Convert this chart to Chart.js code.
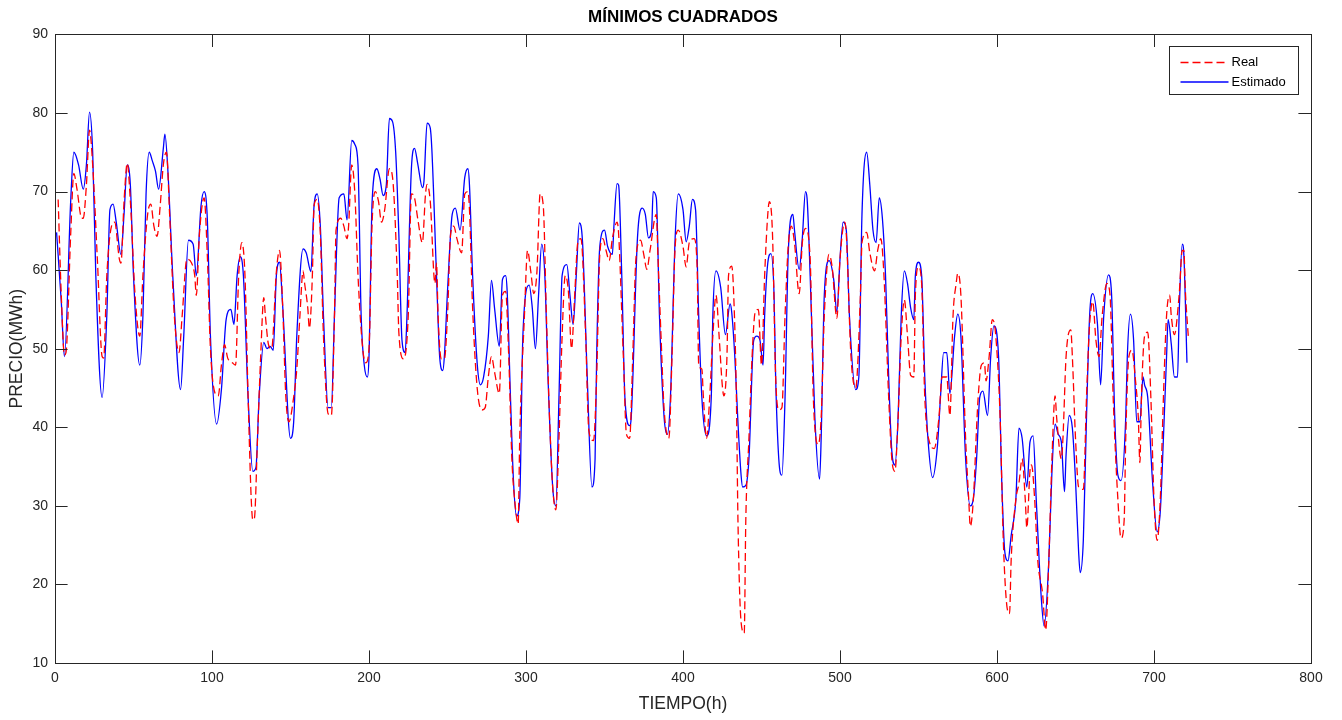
<!DOCTYPE html>
<html>
<head>
<meta charset="utf-8">
<title>Mínimos cuadrados</title>
<script src="https://cdn.jsdelivr.net/npm/chart.js@4.4.1/dist/chart.umd.min.js"></script>
<style>
  html, body { margin: 0; padding: 0; background: #fff; }
  #wrap { width: 1342px; height: 720px; }
</style>
</head>
<body>
<div id="wrap"><canvas id="lsChart" width="1342" height="720"></canvas></div>
<script>
// Precio real (hora, valor)
const realHours = [2,4,6,7,10,12,14,17,18,20,22,24,27,30,31,33,36,38,41,42,44,46,48,51,54,56,59,61,63,65,67,69,71,73,76,79,81,84,87,89,90,92,95,97,99,102,104,106,108,110,113,115,117,119,121,123,125,126,127,129,131,133,134,136,138,141,143,145,147,149,152,154,156,158,159,161,162,164,165,167,169,171,174,176,178,179,182,184,186,187,189,191,193,196,198,200,202,204,206,208,210,213,215,218,219,222,225,227,229,231,234,236,237,239,242,243,244,246,248,250,252,254,256,259,261,263,264,266,269,272,274,276,278,280,283,285,287,289,291,293,295,296,299,301,303,305,307,309,311,313,315,317,319,321,323,325,327,329,331,333,335,338,340,343,345,347,349,351,353,355,358,359,362,364,366,368,370,373,375,377,379,383,384,386,388,391,393,395,397,400,402,404,407,409,410,412,413,415,417,419,421,423,425,426,428,429,431,432,434,435,437,439,440,442,444,446,448,450,452,454,455,457,459,461,463,465,467,469,471,474,476,478,481,483,486,488,490,493,495,498,500,503,504,507,510,513,514,517,519,522,524,526,528,531,533,535,537,539,541,543,545,547,548,550,552,554,557,560,563,565,568,570,572,574,575,577,580,582,583,585,587,588,590,592,593,595,597,599,602,604,606,608,609,612,614,616,618,619,621,622,624,626,629,631,633,635,637,638,641,642,644,647,648,650,652,655,657,659,661,663,665,667,670,672,674,677,679,681,682,684,686,688,690,691,692,694,696,698,700,702,704,706,708,710,711,713,716,718,719,720,722];
const realPrices = [69.0,56.8,49.2,49.5,64.6,72.3,70.3,66.6,66.6,70.8,77.8,73.4,61.3,49.0,48.8,59.3,65.6,66.1,61.4,60.9,68.8,73.6,68.8,56.8,51.6,59.3,67.1,68.4,65.6,64.3,68.2,73.4,75.0,67.1,54.2,49.5,54.2,61.4,60.9,59.3,56.8,64.6,69.2,62.0,50.0,44.3,44.0,47.9,50.5,48.8,48.2,47.9,59.3,63.5,59.3,43.8,30.8,28.2,28.4,38.6,49.0,56.5,54.2,50.5,50.0,59.8,62.5,55.5,44.0,40.7,43.8,47.4,54.2,59.9,58.3,55.2,52.6,59.8,68.2,69.0,64.6,51.6,41.7,41.5,54.2,65.1,66.6,65.6,64.0,65.6,73.4,69.7,59.3,50.0,48.2,50.0,66.1,70.0,68.8,66.1,67.7,72.9,71.8,59.3,52.1,48.7,54.2,69.7,69.2,66.6,63.5,69.7,70.9,68.8,58.3,60.9,54.2,48.7,48.7,54.2,64.6,65.6,64.0,62.2,69.7,70.0,67.7,55.2,44.8,42.2,42.5,46.4,49.0,47.0,44.3,56.8,57.3,49.0,36.0,30.3,27.7,38.6,54.2,62.5,59.9,57.0,59.9,69.7,68.2,54.2,41.2,32.4,29.5,38.6,51.6,59.3,57.3,50.0,56.8,63.5,64.0,51.6,39.6,38.3,46.4,62.0,64.0,62.5,61.2,64.0,66.1,64.6,49.0,39.1,38.6,49.0,61.4,63.8,62.0,60.1,62.5,67.1,62.0,51.6,42.2,38.6,49.0,63.0,65.1,63.0,60.4,63.5,64.0,60.4,48.0,47.4,43.8,38.6,43.8,51.6,56.8,51.6,45.4,44.0,49.0,59.3,60.5,58.3,43.8,28.2,15.2,13.8,28.2,38.6,49.0,54.7,55.0,47.9,59.3,67.1,68.7,64.6,46.4,42.2,42.5,54.2,63.0,65.6,63.5,57.0,63.5,65.3,61.4,43.8,37.8,41.2,54.2,62.0,60.4,53.9,61.4,66.1,64.6,49.0,45.0,56.8,63.5,64.8,62.2,59.9,62.5,64.0,59.3,43.8,36.0,34.4,41.2,51.6,56.2,51.6,46.6,46.4,56.8,60.4,58.3,43.8,38.1,37.3,41.2,46.4,46.4,41.5,54.2,58.3,59.6,56.8,38.6,30.8,27.4,31.0,40.0,43.8,47.9,48.2,45.9,49.0,53.7,52.1,41.2,25.7,17.8,16.3,23.0,30.8,32.9,36.0,30.8,27.2,34.4,35.2,30.8,23.0,18.9,14.2,23.0,36.0,44.0,41.2,36.0,38.6,49.0,52.4,49.0,38.6,32.4,32.1,43.8,53.1,56.0,51.1,49.0,54.2,58.3,56.8,43.8,30.8,25.9,28.2,38.6,49.0,49.8,46.4,41.2,35.5,43.8,51.6,52.1,43.8,30.8,25.6,30.8,43.8,54.2,56.8,54.2,51.8,56.8,62.5,62.5,57.3,51.1];

// Precio estimado por minimos cuadrados
const estHours = [1,4,6,10,12,15,18,20,22,24,26,30,33,35,37,39,42,44,46,48,50,54,56,58,60,62,64,66,69,70,72,75,80,82,85,88,90,93,95,97,99,103,106,109,112,114,116,118,120,123,126,128,130,133,135,137,139,141,143,145,150,152,154,158,160,163,165,167,169,171,174,176,178,181,184,186,189,191,193,195,197,199,200,202,205,207,209,211,213,215,217,219,221,223,224,227,229,231,234,235,237,239,240,243,245,247,248,250,253,255,258,261,263,264,266,269,271,273,276,278,280,283,285,287,288,290,292,294,296,298,302,304,306,308,310,312,314,317,319,321,323,326,328,330,332,334,336,339,342,344,345,347,350,352,355,356,358,359,361,363,366,367,371,374,376,378,380,381,383,385,388,390,392,395,397,400,402,404,406,408,410,412,415,418,419,421,424,427,430,431,433,435,437,438,440,442,445,447,449,451,452,454,456,458,459,461,463,465,467,470,471,474,476,478,479,481,484,487,488,490,493,496,498,500,502,504,506,510,512,514,517,519,521,523,525,527,529,531,533,535,537,539,541,543,545,547,548,550,552,554,556,559,562,564,566,568,570,573,575,577,580,583,585,587,589,591,594,596,598,601,603,605,607,609,612,614,616,619,621,623,625,628,630,633,635,637,639,641,643,644,646,648,650,652,653,655,657,659,661,664,666,668,671,673,675,677,679,682,683,685,687,689,691,693,694,696,699,702,704,706,708,709,711,713,715,716,718,719,721];
const estPrices = [64.8,56.0,49.0,68.8,75.0,73.4,70.3,73.4,80.1,75.0,59.3,43.8,54.2,67.7,68.4,66.1,62.0,67.2,73.4,70.8,59.3,47.9,54.2,69.7,75.0,73.9,72.6,70.3,75.5,77.3,72.3,59.3,44.8,51.6,63.8,63.3,59.3,68.2,70.0,66.6,51.6,40.4,44.8,53.7,55.0,53.1,59.3,61.7,59.3,43.8,34.4,34.9,43.8,50.8,50.0,50.3,49.8,59.3,61.0,55.5,38.6,40.6,51.6,62.7,62.2,59.8,68.2,69.7,65.6,54.2,42.5,42.5,54.2,69.2,69.7,66.4,76.5,76.0,73.4,54.2,47.9,46.4,49.0,68.8,72.9,71.6,69.5,70.8,79.3,78.9,75.0,64.6,51.1,49.5,53.1,72.9,75.5,73.6,70.5,71.3,78.7,78.1,75.5,59.3,49.0,47.2,49.0,57.3,67.1,67.9,65.1,71.8,72.9,70.8,59.3,47.9,45.4,46.4,51.6,58.7,55.1,50.3,58.8,59.3,57.3,44.5,33.3,28.7,30.8,51.6,58.1,55.2,50.0,56.8,63.3,59.3,46.4,32.4,30.0,43.8,59.3,60.7,56.8,53.1,59.3,66.0,63.6,46.4,32.4,36.0,49.0,63.0,65.1,63.0,62.0,65.6,71.0,70.8,59.3,43.8,40.2,41.2,64.1,67.9,67.1,64.1,65.1,70.0,69.2,54.2,41.2,39.1,43.8,64.1,69.7,67.7,63.6,65.6,69.0,67.7,54.2,43.8,38.9,43.8,54.2,59.9,57.8,51.8,55.7,54.7,49.0,40.6,33.9,32.4,32.6,36.0,51.0,51.6,51.1,47.9,54.2,60.9,62.1,56.8,46.4,36.0,33.9,43.8,62.0,67.1,65.1,60.1,64.1,70.0,69.2,59.3,41.2,33.4,38.6,56.8,61.2,58.8,54.7,61.4,66.1,65.1,54.2,44.8,46.4,67.1,75.0,70.8,65.1,63.5,69.2,66.6,59.3,46.4,37.0,35.2,41.2,54.2,59.9,58.3,55.2,53.7,59.3,61.0,59.3,46.4,38.6,33.6,37.5,43.8,49.5,49.5,44.3,51.6,54.4,51.6,36.0,30.0,31.0,36.0,43.8,44.6,41.5,49.0,52.9,49.0,33.3,24.1,23.0,26.2,30.8,39.9,38.6,32.4,38.1,38.9,30.8,18.9,14.7,23.0,34.4,40.4,39.1,38.1,31.8,36.5,41.5,39.9,33.3,24.1,21.5,25.7,41.2,54.2,57.0,53.1,45.4,54.2,59.4,56.8,41.2,33.9,33.2,41.2,49.0,54.4,51.1,40.7,40.7,46.4,45.4,43.8,33.3,26.7,29.3,38.6,49.0,53.7,50.6,46.4,46.4,54.2,63.3,62.0,48.2];

const xTicks = [0, 100, 200, 300, 400, 500, 600, 700, 800];
const yTicks = [10, 20, 30, 40, 50, 60, 70, 80, 90];

const FONT = "'Liberation Sans', Arial, Helvetica, sans-serif";
const AXIS_COLOR = '#262626';

function toPoints(hours, values) {
    return hours.map((h, i) => ({ x: h, y: values[i] }));
}

// frame box, inward ticks on all four sides and the legend box
const matlabAxes = {
    id: 'matlabAxes',
    afterDatasetsDraw(chart) {
        const ctx = chart.ctx;
        const a = chart.chartArea;
        const xs = chart.scales.x;
        const ys = chart.scales.y;
        const tl = 12.6;
        ctx.save();
        ctx.strokeStyle = AXIS_COLOR;
        ctx.lineWidth = 1;
        ctx.beginPath();
        xTicks.forEach(function(v) {
            const px = Math.round(xs.getPixelForValue(v)) + 0.5;
            ctx.moveTo(px, a.bottom);
            ctx.lineTo(px, a.bottom - tl);
            ctx.moveTo(px, a.top);
            ctx.lineTo(px, a.top + tl);
        });
        yTicks.forEach(function(v) {
            const py = Math.round(ys.getPixelForValue(v)) + 0.5;
            ctx.moveTo(a.left, py);
            ctx.lineTo(a.left + tl, py);
            ctx.moveTo(a.right, py);
            ctx.lineTo(a.right - tl, py);
        });
        ctx.stroke();
        ctx.strokeRect(Math.round(a.left) + 0.5, Math.round(a.top) + 0.5,
            Math.round(a.right - a.left), Math.round(a.bottom - a.top));

        // legend
        const lx = 1169.5, ly = 46.5, lw = 129, lh = 48;
        ctx.fillStyle = '#ffffff';
        ctx.fillRect(lx, ly, lw, lh);
        ctx.strokeRect(lx, ly, lw, lh);
        ctx.font = '13px ' + FONT;
        ctx.textBaseline = 'middle';
        ctx.textAlign = 'left';
        chart.data.datasets.forEach(function(ds, i) {
            const y = ly + 16 + i * 19.5;
            ctx.beginPath();
            ctx.strokeStyle = ds.borderColor;
            ctx.lineWidth = ds.borderWidth;
            ctx.setLineDash(ds.borderDash || []);
            ctx.moveTo(lx + 11, y);
            ctx.lineTo(lx + 59, y);
            ctx.stroke();
            ctx.setLineDash([]);
            ctx.fillStyle = '#000000';
            ctx.fillText(ds.label, lx + 62, y);
        });
        ctx.restore();
    }
};

const ctx = document.getElementById('lsChart').getContext('2d');
const lsChart = new Chart(ctx, {
    type: 'line',
    data: {
        datasets: [{
            label: 'Real',
            data: toPoints(realHours, realPrices),
            borderColor: '#ff0000',
            borderWidth: 1.3,
            borderDash: [8, 4],
            pointRadius: 0,
            fill: false,
            cubicInterpolationMode: 'monotone'
        }, {
            label: 'Estimado',
            data: toPoints(estHours, estPrices),
            borderColor: '#0000ff',
            borderWidth: 1.3,
            pointRadius: 0,
            fill: false,
            cubicInterpolationMode: 'monotone'
        }]
    },
    options: {
        responsive: false,
        animation: false,
        devicePixelRatio: 1,
        layout: { padding: { top: 0, right: 31, bottom: 0, left: 0 } },
        plugins: {
            legend: { display: false },
            tooltip: { enabled: false },
            title: {
                display: true,
                fullSize: false,
                text: 'MÍNIMOS CUADRADOS',
                color: '#000000',
                font: { family: FONT, size: 17, weight: 'bold' },
                padding: { top: 7, bottom: 7 }
            }
        },
        scales: {
            x: {
                type: 'linear',
                min: 0,
                max: 800,
                afterBuildTicks: function(scale) {
                    scale.ticks = xTicks.map(v => ({ value: v }));
                },
                afterFit: function(scale) { scale.height = 57; },
                grid: { display: false, drawTicks: false },
                border: { display: false },
                ticks: {
                    color: AXIS_COLOR,
                    font: { family: FONT, size: 14 },
                    padding: 7,
                    maxRotation: 0
                },
                title: {
                    display: true,
                    text: 'TIEMPO(h)',
                    color: AXIS_COLOR,
                    font: { family: FONT, size: 17.5 },
                    padding: { top: 0, bottom: 5 }
                }
            },
            y: {
                type: 'linear',
                min: 10,
                max: 90,
                afterBuildTicks: function(scale) {
                    scale.ticks = yTicks.map(v => ({ value: v }));
                },
                afterFit: function(scale) { scale.width = 55; },
                grid: { display: false, drawTicks: false },
                border: { display: false },
                ticks: {
                    color: AXIS_COLOR,
                    font: { family: FONT, size: 14 },
                    padding: 7
                },
                title: {
                    display: true,
                    text: 'PRECIO(MWh)',
                    color: AXIS_COLOR,
                    font: { family: FONT, size: 17.5 },
                    padding: { top: 7, bottom: 0 }
                }
            }
        }
    },
    plugins: [matlabAxes]
});
</script>
</body>
</html>
